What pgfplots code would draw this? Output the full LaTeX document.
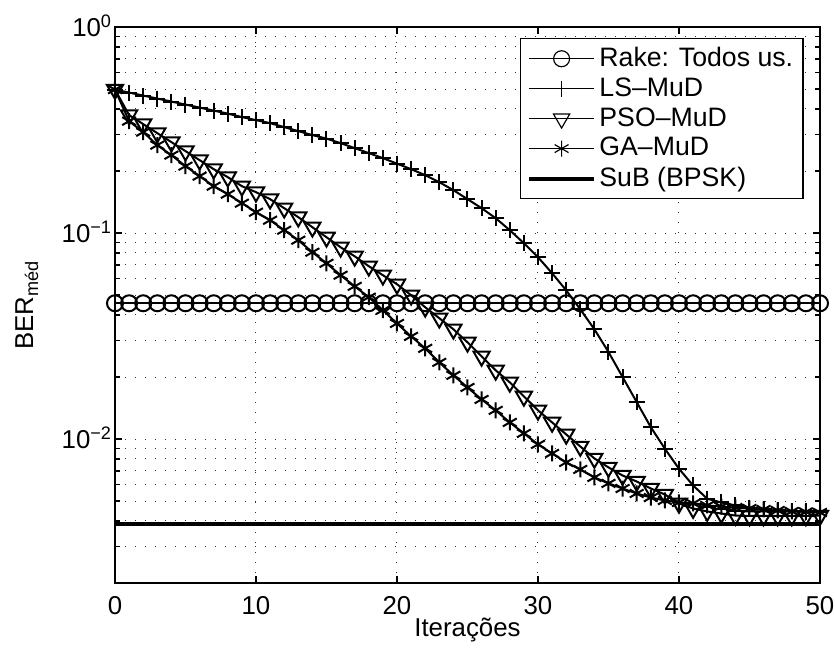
\documentclass[border=0pt]{standalone}
\usepackage{fontspec}
\setmainfont{Liberation Sans}
\usepackage{pgfplots}
\pgfplotsset{compat=1.18}
\pgfplotsset{sublegend/.style={legend image code/.code={\draw[black, line width=2.4pt] (0pt,0pt) -- (39pt,0pt);}}}
\begin{document}
\fontsize{15.5}{18}\selectfont
\begin{tikzpicture}
\begin{axis}[
  scale only axis, width=423pt, height=333.6pt,
  at={(0,0)}, anchor=south west,
  xmin=0, xmax=50, ymode=log, ymin=2e-3, ymax=1,
  xtick={0,10,20,30,40,50}, xticklabels={0,10,20,30,40,50},
  ytick={0.01,0.1,1},
  yticklabels={10\textsuperscript{−2},10\textsuperscript{−1},10\textsuperscript{0}},
  minor ytick={0.002,0.003,0.004,0.005,0.006,0.007,0.008,0.009,0.02,0.03,0.04,0.05,0.06,0.07,0.08,0.09,0.2,0.3,0.4,0.5,0.6,0.7,0.8,0.9},
  grid=both,
  major grid style={black!80, line width=0.6pt, dash pattern=on 0.6pt off 5.4pt},
  minor grid style={black!80, line width=0.6pt, dash pattern=on 0.6pt off 5.4pt},
  tick align=inside, major tick length=4.5pt, minor tick length=2.8pt,
  every tick/.style={black, line width=0.8pt},
  axis line style={line width=0.9pt},
  /pgf/number format/assume math mode=true,
  tick label style={font=\fontsize{15.5}{18}\selectfont},
  xticklabel style={anchor=base, yshift=-18.6pt},
  yticklabel style={anchor=base east, yshift=-5.5pt, xshift=3.5pt},
  xlabel={Iterações},
  ylabel={BER\textsubscript{méd}},
  every axis x label/.style={at={(axis description cs:0.5,-0.097)}, anchor=base, font=\fontsize{15.5}{18}\selectfont},
  every axis y label/.style={at={(axis description cs:-0.1163,0.5)}, rotate=90, anchor=base, font=\fontsize{15.5}{18}\selectfont},
  legend style={at={(0.977,0.980)}, anchor=north east, draw=black, line width=0.8pt, fill=white,
    font=\fontsize{16}{18}\selectfont, inner xsep=4pt, inner ysep=3pt, row sep=0.4pt},
  legend cell align=left,
  legend image code/.code={\draw[mark repeat=2,mark phase=2,#1,line width=0.7pt] plot coordinates {(0pt,0pt) (19.5pt,0pt) (39pt,0pt)};},
]
\addplot[black, line width=1.2pt, mark=o, mark size=4.8pt] table {
x y
0 0.0456
1 0.0456
2 0.0456
3 0.0456
4 0.0456
5 0.0456
6 0.0456
7 0.0456
8 0.0456
9 0.0456
10 0.0456
11 0.0456
12 0.0456
13 0.0456
14 0.0456
15 0.0456
16 0.0456
17 0.0456
18 0.0456
19 0.0456
20 0.0456
21 0.0456
22 0.0456
23 0.0456
24 0.0456
25 0.0456
26 0.0456
27 0.0456
28 0.0456
29 0.0456
30 0.0456
31 0.0456
32 0.0456
33 0.0456
34 0.0456
35 0.0456
36 0.0456
37 0.0456
38 0.0456
39 0.0456
40 0.0456
41 0.0456
42 0.0456
43 0.0456
44 0.0456
45 0.0456
46 0.0456
47 0.0456
48 0.0456
49 0.0456
50 0.0456
};
\addlegendentry{Rake: Todos us.}
\addplot[black, line width=1.2pt, mark=+, mark size=4.8pt] table {
x y
0 0.497
1 0.4805
2 0.4648
3 0.4494
4 0.4345
5 0.4202
6 0.4063
7 0.3929
8 0.3799
9 0.3653
10 0.3532
11 0.3416
12 0.3267
13 0.3124
14 0.2987
15 0.2872
16 0.2731
17 0.2583
18 0.2442
19 0.2310
20 0.2171
21 0.2042
22 0.1909
23 0.1765
24 0.1615
25 0.1460
26 0.1320
27 0.1180
28 0.1032
29 0.0892
30 0.0763
31 0.0638
32 0.0527
33 0.0426
34 0.0341
35 0.02644
36 0.01999
37 0.01511
38 0.01142
39 0.00897
40 0.00717
41 0.00595
42 0.00513
43 0.00492
44 0.00476
45 0.00465
46 0.00457
47 0.00452
48 0.00447
49 0.00445
50 0.00440
};
\addlegendentry{LS–MuD}
\addplot[black, line width=1.2pt, mark=triangle, mark size=5.6pt, mark options={rotate=180}] table {
x y
0 0.497
1 0.3736
2 0.3378
3 0.3054
4 0.2762
5 0.2498
6 0.2258
7 0.2042
8 0.1867
9 0.1688
10 0.1579
11 0.1460
12 0.1320
13 0.1194
14 0.1067
15 0.0954
16 0.0853
17 0.0771
18 0.0690
19 0.0624
20 0.0564
21 0.0499
22 0.0436
23 0.0386
24 0.0341
25 0.02947
26 0.0252
27 0.02155
28 0.01884
29 0.01611
30 0.01378
31 0.01204
32 0.01053
33 0.00920
34 0.00805
35 0.00728
36 0.00665
37 0.00622
38 0.005754
39 0.00538
40 0.00487
41 0.00460
42 0.00445
43 0.00435
44 0.00425
45 0.00423
46 0.00423
47 0.00423
48 0.00423
49 0.00423
50 0.00425
};
\addlegendentry{PSO–MuD}
\addplot[black, line width=1.2pt, mark=asterisk, mark size=4.8pt] table {
x y
0 0.497
1 0.3493
2 0.3089
3 0.2670
4 0.2388
5 0.2112
6 0.1888
7 0.1688
8 0.1544
9 0.1396
10 0.1262
11 0.1154
12 0.1032
13 0.0923
14 0.0807
15 0.0713
16 0.0624
17 0.0551
18 0.0488
19 0.0422
20 0.0364
21 0.0315
22 0.02755
23 0.02356
24 0.02037
25 0.0178
26 0.01557
27 0.01378
28 0.01204
29 0.01065
30 0.00942
31 0.00851
32 0.00770
33 0.00712
34 0.00651
35 0.00609
36 0.00575
37 0.00544
38 0.00520
39 0.00503
40 0.00492
41 0.00487
42 0.00476
43 0.00470
44 0.00465
45 0.00460
46 0.00455
47 0.00450
48 0.00445
49 0.00443
50 0.00440
};
\addlegendentry{GA–MuD}
\addplot[black, line width=2.4pt, sublegend] table {
x y
0 0.00385
50 0.00385
};
\addlegendentry{SuB (BPSK)}
\end{axis}
\pgfresetboundingbox
\useasboundingbox (-69pt,-39pt) rectangle (432pt,349.8pt);
\end{tikzpicture}
\end{document}
